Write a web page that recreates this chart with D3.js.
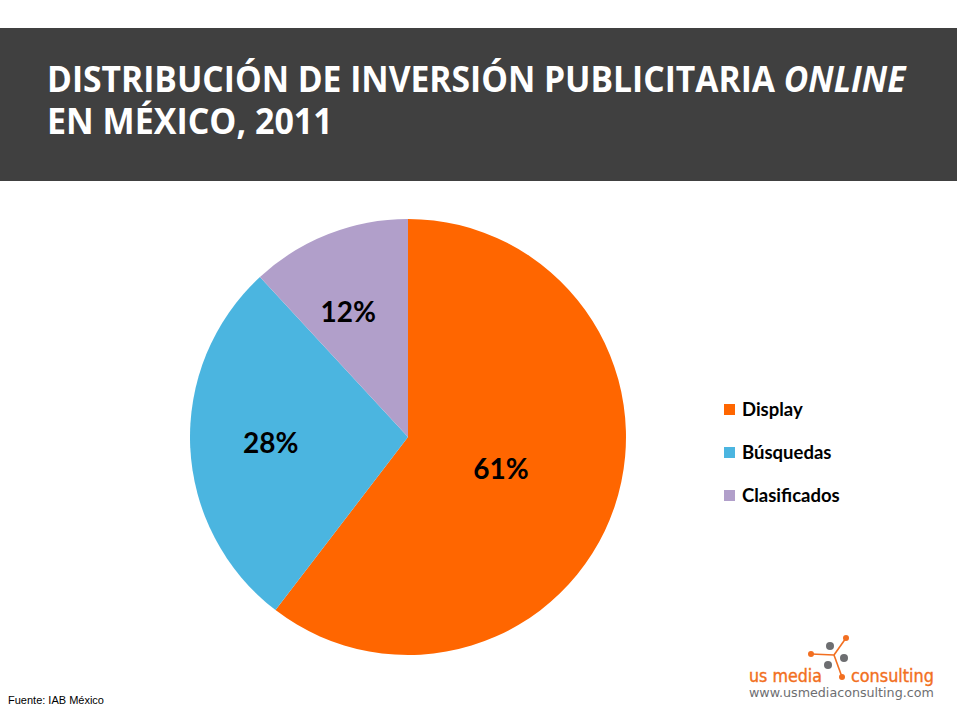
<!DOCTYPE html>
<html>
<head>
<meta charset="utf-8">
<script src="https://cdn.jsdelivr.net/npm/d3@7"></script>
<style>
  body { margin: 0; background: #fff; }
  svg { display: block; }
</style>
</head>
<body>
<svg id="svg" width="957" height="717"></svg>
<script>
// data
const categories = ['Display', 'Búsquedas', 'Clasificados'];
const values = [61, 28, 12];
const colors = ['#FF6600', '#4BB5E0', '#B19FCA'];

// label placement (fraction of radius) per slice, Excel "best fit" look
const labelRadius = [0.45, 0.63, 0.6];
const labelShift = [[0, 0], [0, 0], [-12, -3]];

const svg = d3.select('#svg');

// stretch a text node horizontally so it spans the given width
function fitWidth(node, x, w) {
	const bb = node.getBBox();
	const k = w / bb.width;
	d3.select(node).attr('transform', `translate(${x}, 0) scale(${k}, 1) translate(${-x}, 0)`);
}

// header bar
svg
	.append('rect')
	.attr('x', 0)
	.attr('y', 28)
	.attr('width', 957)
	.attr('height', 153)
	.attr('fill', '#404040');

const t1 = svg
	.append('text')
	.attr('x', 47)
	.attr('y', 92)
	.attr('fill', '#fff')
	.attr('font-family', '"Open Sans", Lato, sans-serif')
	.attr('font-weight', 'bold')
	.attr('font-size', 36);
t1.append('tspan').text('DISTRIBUCIÓN DE INVERSIÓN PUBLICITARIA ');
t1.append('tspan').attr('font-style', 'italic').text('ONLINE');
fitWidth(t1.node(), 47, 860);

const t2 = svg
	.append('text')
	.attr('x', 47)
	.attr('y', 134)
	.attr('fill', '#fff')
	.attr('font-family', '"Open Sans", Lato, sans-serif')
	.attr('font-weight', 'bold')
	.attr('font-size', 36)
	.text('EN MÉXICO, 2011');
fitWidth(t2.node(), 47, 286);

// pie
const cx = 408;
const cy = 437;
const radius = 218;

const pie = d3.pie().sort(null).value((d) => d.value);
const arc = d3.arc().innerRadius(0).outerRadius(radius);

const slices = pie(categories.map((c, i) => ({ name: c, value: values[i], i })));

const pieGroup = svg.append('g').attr('transform', `translate(${cx}, ${cy})`);

pieGroup
	.selectAll('path')
	.data(slices)
	.enter()
	.append('path')
	.attr('d', arc)
	.attr('fill', (d) => colors[d.data.i]);

pieGroup
	.selectAll('text')
	.data(slices)
	.enter()
	.append('text')
	.attr('transform', (d) => {
		const r = radius * labelRadius[d.data.i];
		const a = (d.startAngle + d.endAngle) / 2;
		const s = labelShift[d.data.i];
		return `translate(${Math.sin(a) * r + s[0]}, ${-Math.cos(a) * r + s[1]})`;
	})
	.attr('text-anchor', 'middle')
	.attr('dy', '0.36em')
	.attr('font-family', 'Lato, "Open Sans", sans-serif')
	.attr('font-weight', 'bold')
	.attr('font-size', 28)
	.attr('fill', '#000')
	.text((d) => `${d.data.value}%`);

// legend
const legend = svg
	.append('g')
	.selectAll('g')
	.data(categories)
	.enter()
	.append('g')
	.attr('transform', (d, i) => `translate(724, ${404 + i * 43})`);

legend
	.append('rect')
	.attr('width', 11)
	.attr('height', 11)
	.attr('fill', (d, i) => colors[i]);

legend
	.append('text')
	.attr('x', 18)
	.attr('y', 11.5)
	.attr('font-family', 'Lato, "Open Sans", sans-serif')
	.attr('font-weight', 'bold')
	.attr('font-size', 18.5)
	.attr('fill', '#000')
	.text((d) => d);

// source
svg
	.append('text')
	.attr('x', 8)
	.attr('y', 704)
	.attr('font-family', '"Liberation Sans", Arial, sans-serif')
	.attr('font-size', 11)
	.attr('fill', '#000')
	.text('Fuente: IAB México');

// logo
const logo = svg.append('g');
const hub = [834, 655];
const orangeDots = [[846, 638], [811, 654], [842, 677]];
const grayDots = [[830, 646], [844, 658], [828, 665]];

logo
	.selectAll('line')
	.data(orangeDots)
	.enter()
	.append('line')
	.attr('x1', hub[0])
	.attr('y1', hub[1])
	.attr('x2', (d) => d[0])
	.attr('y2', (d) => d[1])
	.attr('stroke', '#F26F21')
	.attr('stroke-width', 1.6);

logo
	.selectAll('circle.o')
	.data(orangeDots)
	.enter()
	.append('circle')
	.attr('class', 'o')
	.attr('cx', (d) => d[0])
	.attr('cy', (d) => d[1])
	.attr('r', 3)
	.attr('fill', '#F26F21');

logo
	.selectAll('circle.g')
	.data(grayDots)
	.enter()
	.append('circle')
	.attr('class', 'g')
	.attr('cx', (d) => d[0])
	.attr('cy', (d) => d[1])
	.attr('r', 4)
	.attr('fill', '#6D6E71');

const l1 = logo
	.append('text')
	.attr('x', 749)
	.attr('y', 682)
	.attr('font-family', '"DejaVu Sans", sans-serif')
	.attr('font-size', 17)
	.attr('fill', '#F26F21')
	.attr('stroke', '#F26F21')
	.attr('stroke-width', 0.4)
	.text('us media');
fitWidth(l1.node(), 749, 73);

const l2 = logo
	.append('text')
	.attr('x', 851)
	.attr('y', 682)
	.attr('font-family', '"DejaVu Sans", sans-serif')
	.attr('font-size', 17)
	.attr('fill', '#F26F21')
	.attr('stroke', '#F26F21')
	.attr('stroke-width', 0.4)
	.text('consulting');
fitWidth(l2.node(), 851, 83);

const l3 = logo
	.append('text')
	.attr('x', 749)
	.attr('y', 697)
	.attr('font-family', '"DejaVu Sans", sans-serif')
	.attr('font-size', 12)
	.attr('fill', '#6D6E71')
	.text('www.usmediaconsulting.com');
fitWidth(l3.node(), 749, 185);
</script>
</body>
</html>
